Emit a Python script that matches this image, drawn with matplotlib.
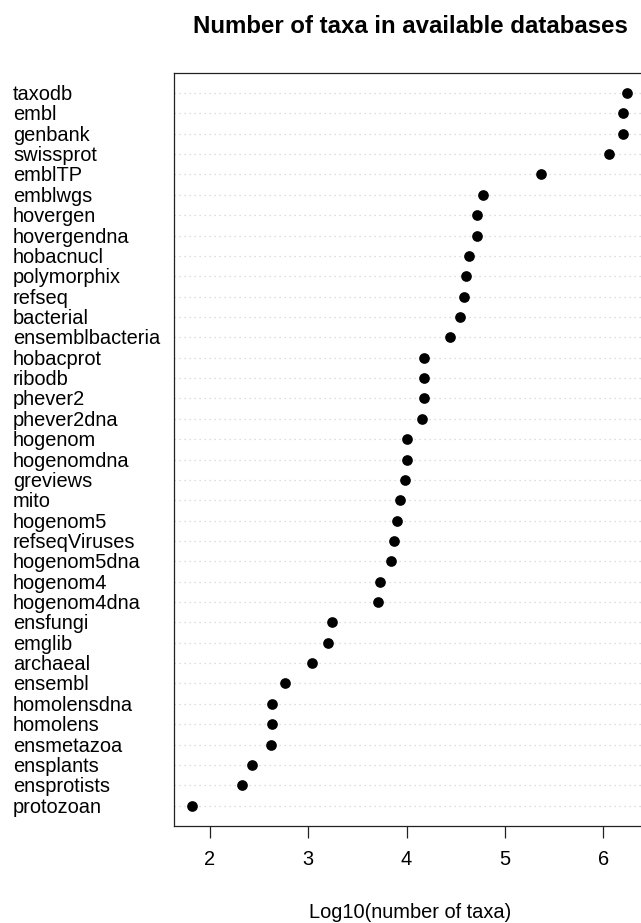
import matplotlib
matplotlib.use("Agg")
import matplotlib.pyplot as plt
from matplotlib import transforms

plt.rcParams['font.family'] = ['Liberation Sans', 'DejaVu Sans']

# databases, top to bottom as drawn
databases = ['taxodb', 'embl', 'genbank', 'swissprot', 'emblTP', 'emblwgs',
             'hovergen', 'hovergendna', 'hobacnucl', 'polymorphix', 'refseq',
             'bacterial', 'ensemblbacteria', 'hobacprot', 'ribodb', 'phever2',
             'phever2dna', 'hogenom', 'hogenomdna', 'greviews', 'mito',
             'hogenom5', 'refseqViruses', 'hogenom5dna', 'hogenom4',
             'hogenom4dna', 'ensfungi', 'emglib', 'archaeal', 'ensembl',
             'homolensdna', 'homolens', 'ensmetazoa', 'ensplants',
             'ensprotists', 'protozoan']

# log10(number of taxa)
log_taxa = [6.24, 6.20, 6.20, 6.06, 5.37, 4.78,
            4.72, 4.72, 4.63, 4.60, 4.58,
            4.54, 4.44, 4.18, 4.18, 4.18,
            4.16, 4.00, 4.00, 3.98, 3.93,
            3.90, 3.87, 3.84, 3.73,
            3.71, 3.24, 3.20, 3.04, 2.76,
            2.63, 2.63, 2.62, 2.43,
            2.33, 1.82]

x_ticks = [2, 3, 4, 5, 6]

W, H = 641, 923
fig = plt.figure(figsize=(W / 100, H / 100), dpi=100)
ax = fig.add_axes([174.3 / W, 1 - 826 / H, (646.6 - 174.3) / W, (826 - 72.7) / H])

n = len(databases)
ypos = list(range(n, 0, -1))

for y in ypos:
    ax.axhline(y, color='#d3d3d3', lw=0.9, linestyle=(0, (1, 3)), zorder=1)

ax.plot(log_taxa, ypos, 'o', color='black', ms=7.7, mew=0, zorder=3)

ax.set_xlim(1.64, 6.44)
ax.set_ylim(0, n + 1)
ax.set_yticks([])
ax.set_xticks(x_ticks)
ax.set_xticklabels([str(t) for t in x_ticks])
ax.tick_params(axis='x', length=8.6, width=0.9, pad=9, labelsize=14.4,
               color='#222222')
for s in ax.spines.values():
    s.set_linewidth(0.9)
    s.set_color('#222222')

# row labels at the left edge of the figure
trans = transforms.blended_transform_factory(fig.transFigure, ax.transData)
trans = transforms.offset_copy(trans, fig=fig, y=-7 * 72 / 100, units='points')
for name, y in zip(databases, ypos):
    ax.text(13 / W, y, name, transform=trans, ha='left', va='baseline',
            fontsize=14.4, clip_on=False)

fig.text(410 / W, 1 - 33 / H, 'Number of taxa in available databases',
         ha='center', va='baseline', fontsize=17.3, fontweight='bold')
fig.text(410 / W, 1 - 918 / H, 'Log10(number of taxa)',
         ha='center', va='baseline', fontsize=14.4)

fig.savefig('out.png', dpi=100)
